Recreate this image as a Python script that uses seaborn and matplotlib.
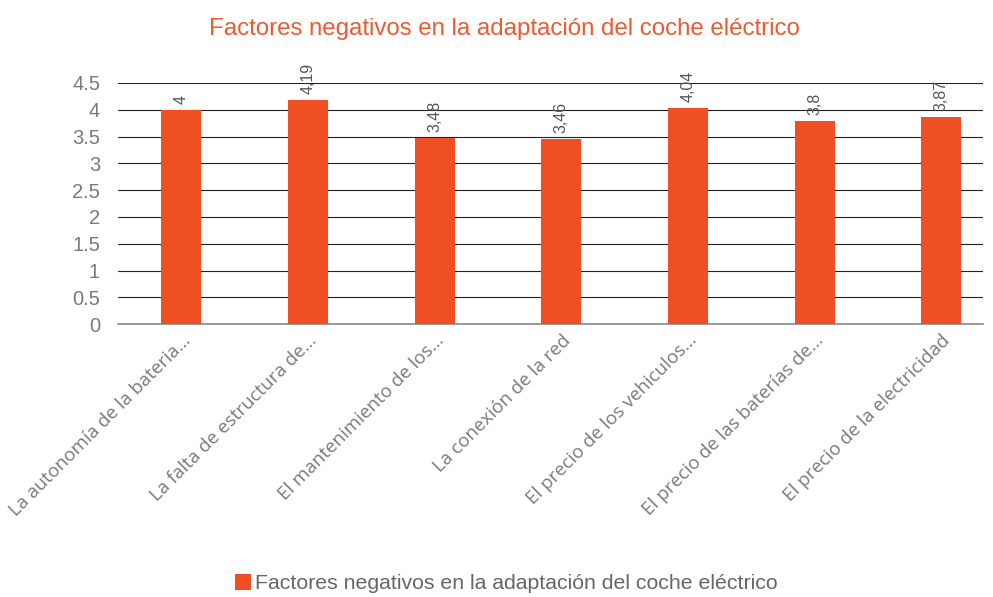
import matplotlib
matplotlib.use("Agg")
import matplotlib.pyplot as plt
import seaborn as sns
import pandas as pd
from matplotlib.patches import Patch

# =========================
# DATA
# =========================

categorias = [
    "La autonomía de la bateria...",
    "La falta de estructura de...",
    "El mantenimiento de los...",
    "La conexión de la red",
    "El precio de los vehiculos...",
    "El precio de las baterías de...",
    "El precio de la electricidad",
]
valores = [4.0, 4.19, 3.48, 3.46, 4.04, 3.8, 3.87]
etiquetas = ["4", "4,19", "3,48", "3,46", "4,04", "3,8", "3,87"]
yticks = [0, 0.5, 1, 1.5, 2, 2.5, 3, 3.5, 4, 4.5]
ytick_labels = ["0", "0.5", "1", "1.5", "2", "2.5", "3", "3.5", "4", "4.5"]

titulo = "Factores negativos en la adaptación del coche eléctrico"

naranja = "#F04E23"
gris = "#7a7a7a"

df = pd.DataFrame({"categoria": categorias, "valor": valores})

# =========================
# PLOT
# =========================

sns.set_style("white")
plt.rcParams["font.family"] = ["Liberation Sans", "DejaVu Sans"]

fig = plt.figure(figsize=(9.93, 5.97), dpi=100)
ax = fig.add_axes([0.119, 0.457, 0.871, 0.404])

sns.barplot(
    data=df,
    x="categoria",
    y="valor",
    color=naranja,
    width=0.316,
    saturation=1,
    linewidth=0,
    ax=ax,
    zorder=3,
)

ax.set_ylim(0, 4.5)
ax.set_xlim(-0.5, 6.33)
ax.set_yticks(yticks)
ax.set_yticklabels(ytick_labels, fontsize=14.5, color=gris)
ax.yaxis.grid(True, color="#222222", linewidth=0.8, zorder=0)
ax.set_axisbelow(True)
for s in ["top", "right", "left"]:
    ax.spines[s].set_visible(False)
ax.spines["bottom"].set_color("#888888")
ax.spines["bottom"].set_linewidth(1.2)
ax.tick_params(axis="y", length=0, pad=13)
ax.tick_params(axis="x", length=0, pad=5)
ax.set_xlabel("")
ax.set_ylabel("")

ax.set_xticks(range(len(categorias)))
ax.set_xticklabels(
    categorias,
    rotation=45,
    ha="right",
    rotation_mode="anchor",
    fontsize=13.5,
    color=gris,
    family=["Open Sans", "DejaVu Sans"],
)

# value labels
for i, (v, t) in enumerate(zip(valores, etiquetas)):
    ax.annotate(
        t,
        (i, v),
        xytext=(0, 4),
        textcoords="offset points",
        rotation=90,
        ha="center",
        va="bottom",
        fontsize=11.5,
        color="#555555",
        annotation_clip=False,
    )

fig.text(0.508, 0.952, titulo, ha="center", va="center", fontsize=17.3, color="#F05A30")

handles = [Patch(facecolor=naranja, edgecolor="none")]
fig.legend(
    handles,
    [titulo],
    loc="center",
    bbox_to_anchor=(0.51, 0.022),
    frameon=False,
    fontsize=15.3,
    labelcolor="#666666",
    handlelength=0.75,
    handleheight=0.75,
    handletextpad=0.2,
)

fig.savefig("out.png", dpi=100)
